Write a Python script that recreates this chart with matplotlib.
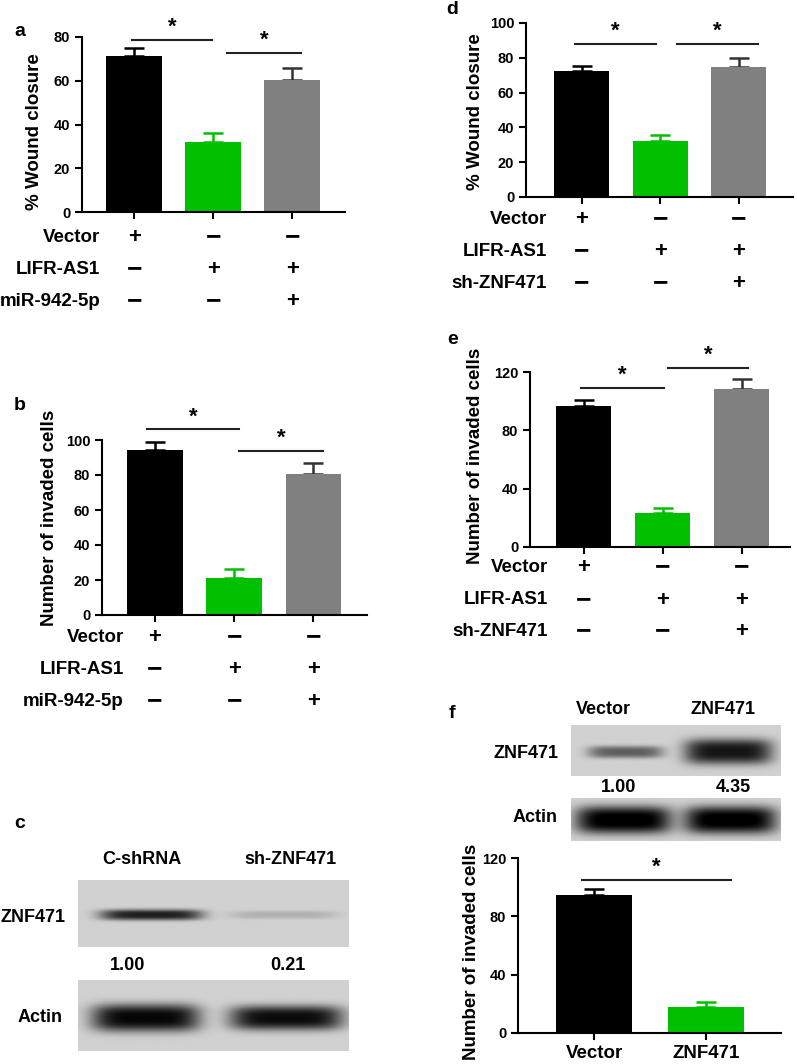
import matplotlib
matplotlib.use("Agg")
import matplotlib.pyplot as plt
import matplotlib.transforms as mtransforms
import numpy as np

plt.rcParams["font.family"] = ["Liberation Sans", "DejaVu Sans"]
plt.rcParams["font.weight"] = "bold"

# ---- data ----
bar_colors = ["#000000", "#00c000", "#808080"]
err_colors = ["#000000", "#00c000", "#333333"]

rows_a = ["Vector", "LIFR-AS1", "miR-942-5p"]
signs_a = [["+", "−", "−"], ["−", "+", "+"], ["−", "−", "+"]]
wound_a = [71.5, 32.1, 60.3]
wound_a_err = [3.3, 3.9, 5.4]

invaded_b = [94.3, 21.3, 80.4]
invaded_b_err = [4.4, 4.8, 6.3]

rows_d = ["Vector", "LIFR-AS1", "sh-ZNF471"]
signs_d = [["+", "−", "−"], ["−", "+", "+"], ["−", "−", "+"]]
wound_d = [72.4, 32.2, 74.7]
wound_d_err = [2.7, 3.4, 5.4]

invaded_e = [96.5, 23.3, 108.6]
invaded_e_err = [4.6, 3.4, 6.4]

groups_f = ["Vector", "ZNF471"]
invaded_f = [94.6, 18.1]
invaded_f_err = [3.9, 3.4]

lanes_c = ["C-shRNA", "sh-ZNF471"]
quant_c = [1.00, 0.21]
lanes_f = ["Vector", "ZNF471"]
quant_f = [1.00, 4.35]

W, H = 797, 1064
fig = plt.figure(figsize=(W / 100, H / 100), dpi=100)


def box(l, t, r, b):
    return [l / W, 1 - b / H, (r - l) / W, (b - t) / H]


def fy(py):
    return 1 - py / H


def bar_panel(rect, vals, errs, ylim, yticks, xlim, colors, ecolors, width):
    ax = fig.add_axes(rect)
    x = np.arange(len(vals))
    ax.bar(x, vals, width=width, color=colors, zorder=2)
    for xi, v, e, ec in zip(x, vals, errs, ecolors):
        ax.errorbar(xi, v, yerr=[[0], [e]], fmt="none", ecolor=ec,
                    elinewidth=1.8, capsize=7, capthick=1.8, zorder=1)
    ax.set_xlim(*xlim)
    ax.set_ylim(*ylim)
    ax.set_yticks(yticks)
    ax.set_xticks(x)
    ax.set_xticklabels([])
    for s in ["top", "right"]:
        ax.spines[s].set_visible(False)
    for s in ["left", "bottom"]:
        ax.spines[s].set_linewidth(1.5)
    ax.tick_params(width=1.5, length=5, labelsize=10.5)
    for lab in ax.get_yticklabels():
        lab.set_fontweight("bold")
    return ax


def sig(ax, x0, x1, y):
    ax.plot([x0, x1], [y, y], color="#222222", lw=1.5, clip_on=False)
    ax.annotate("*", ((x0 + x1) / 2, y), xytext=(0, 9), textcoords="offset points",
                ha="center", va="center", fontsize=16, fontweight="bold",
                annotation_clip=False)


def sign_rows(ax, rows, signs, ys, label_right):
    tr = mtransforms.blended_transform_factory(ax.transData, fig.transFigure)
    for name, row, py in zip(rows, signs, ys):
        fig.text(label_right / W, fy(py), name, ha="right", va="center_baseline",
                 fontsize=13.5, fontweight="bold")
        for xi, s in enumerate(row):
            fs = 16 if s == "+" else 19
            ax.text(xi, fy(py), s, transform=tr, ha="center", va="center_baseline",
                    fontsize=fs, fontweight="bold", clip_on=False)


def blot(rect, bands, shade=0.82):
    ax = fig.add_axes(rect)
    ny, nx = 120, 400
    yy, xx = np.mgrid[0:1:ny * 1j, 0:1:nx * 1j]
    img = np.full((ny, nx), shade)
    for cx, hw, cy, hh, dark in bands:
        prof = np.exp(-np.abs((xx - cx) / hw) ** 5) * np.exp(-np.abs((yy - cy) / hh) ** 3)
        img = img - dark * prof
    ax.imshow(np.clip(img, 0, 1), cmap="gray", vmin=0, vmax=1, aspect="auto",
              extent=[0, 1, 1, 0], interpolation="bilinear")
    ax.set_axis_off()
    return ax


# ---- panel a ----
ax_a = bar_panel(box(82, 37, 345, 212), wound_a, wound_a_err, (0, 80),
                 [0, 20, 40, 60, 80], (-0.66, 2.67), bar_colors, err_colors, 0.7)
sig(ax_a, -0.03, 0.99, 78.6)
sig(ax_a, 1.18, 2.11, 72.7)
fig.text(35 / W, fy(132), "% Wound closure", rotation=90, ha="center", va="center",
         fontsize=13.5, fontweight="bold")
sign_rows(ax_a, rows_a, signs_a, [235, 267, 299], 100)
fig.text(20 / W, fy(31), "a", ha="center", va="center", fontsize=14, fontweight="bold")

# ---- panel b ----
ax_b = bar_panel(box(102, 440, 367, 615), invaded_b, invaded_b_err, (0, 100),
                 [0, 20, 40, 60, 80, 100], (-0.67, 2.68), bar_colors, err_colors, 0.7)
sig(ax_b, -0.1, 1.06, 106.1)
sig(ax_b, 1.06, 2.13, 93.7)
fig.text(50 / W, fy(518), "Number of invaded cells", rotation=90, ha="center",
         va="center", fontsize=13.5, fontweight="bold")
sign_rows(ax_b, rows_a, signs_a, [635, 667, 699], 124)
fig.text(20 / W, fy(405), "b", ha="center", va="center", fontsize=14, fontweight="bold")

# ---- panel c (western blot) ----
fig.text(20 / W, fy(824), "c", ha="center", va="center", fontsize=14, fontweight="bold")
for name, px in zip(lanes_c, [142, 290]):
    fig.text(px / W, fy(859), name, ha="center", va="center", fontsize=13,
             fontweight="bold")
blot(box(78, 880, 349, 947),
     [(0.27, 0.19, 0.52, 0.08, 0.70 * quant_c[0]),
      (0.76, 0.20, 0.52, 0.06, 0.60 * quant_c[1])])
blot(box(78, 980, 349, 1051),
     [(0.25, 0.20, 0.54, 0.19, 0.80), (0.77, 0.21, 0.54, 0.17, 0.78)])
fig.text(33 / W, fy(917), "ZNF471", ha="center", va="center", fontsize=13,
         fontweight="bold")
fig.text(40 / W, fy(1018), "Actin", ha="center", va="center", fontsize=13,
         fontweight="bold")
for q, px in zip(quant_c, [128, 288]):
    fig.text(px / W, fy(966), f"{q:.2f}", ha="center", va="center", fontsize=13,
             fontweight="bold")

# ---- panel d ----
ax_d = bar_panel(box(526, 23, 793, 197), wound_d, wound_d_err, (0, 100),
                 [0, 20, 40, 60, 80, 100], (-0.71, 2.69), bar_colors, err_colors, 0.7)
sig(ax_d, -0.09, 0.94, 88.2)
sig(ax_d, 1.21, 2.24, 88.2)
fig.text(476 / W, fy(112), "% Wound closure", rotation=90, ha="center", va="center",
         fontsize=13.5, fontweight="bold")
sign_rows(ax_d, rows_d, signs_d, [217, 249, 281], 547)
fig.text(452 / W, fy(9), "d", ha="center", va="center", fontsize=14, fontweight="bold")

# ---- panel e ----
ax_e = bar_panel(box(530, 372, 790, 547), invaded_e, invaded_e_err, (0, 120),
                 [0, 40, 80, 120], (-0.68, 2.61), bar_colors, err_colors, 0.7)
sig(ax_e, -0.03, 1.01, 109.0)
sig(ax_e, 1.06, 2.08, 123.0)
fig.text(475 / W, fy(456), "Number of invaded cells", rotation=90, ha="center",
         va="center", fontsize=13.5, fontweight="bold")
sign_rows(ax_e, rows_d, signs_d, [565, 598, 629], 548)
fig.text(453 / W, fy(340), "e", ha="center", va="center", fontsize=14, fontweight="bold")

# ---- panel f (blot + bars) ----
fig.text(452 / W, fy(713), "f", ha="center", va="center", fontsize=14, fontweight="bold")
for name, px in zip(lanes_f, [603, 723]):
    fig.text(px / W, fy(710), name, ha="center", va="center", fontsize=13,
             fontweight="bold")
blot(box(571, 725, 781, 776),
     [(0.26, 0.18, 0.53, 0.12, 0.45 * quant_f[0]),
      (0.75, 0.21, 0.52, 0.25, 0.17 * quant_f[1])])
blot(box(571, 798, 781, 841),
     [(0.25, 0.23, 0.51, 0.32, 0.86), (0.76, 0.22, 0.51, 0.32, 0.86)])
fig.text(558 / W, fy(753), "ZNF471", ha="right", va="center", fontsize=13,
         fontweight="bold")
fig.text(558 / W, fy(818), "Actin", ha="right", va="center", fontsize=13,
         fontweight="bold")
for q, px in zip(quant_f, [619, 733]):
    fig.text(px / W, fy(788), f"{q:.2f}", ha="center", va="center", fontsize=13,
             fontweight="bold")

ax_f = bar_panel(box(518, 858, 781, 1033), invaded_f, invaded_f_err, (0, 120),
                 [0, 40, 80, 120], (-0.68, 1.67), bar_colors[:2], err_colors[:2], 0.68)
ax_f.set_xticklabels(groups_f, fontsize=13.5, fontweight="bold")
sig(ax_f, -0.11, 1.22, 104.9)
fig.text(472 / W, fy(952), "Number of invaded cells", rotation=90, ha="center",
         va="center", fontsize=13.5, fontweight="bold")

fig.savefig("out.png", dpi=100)
